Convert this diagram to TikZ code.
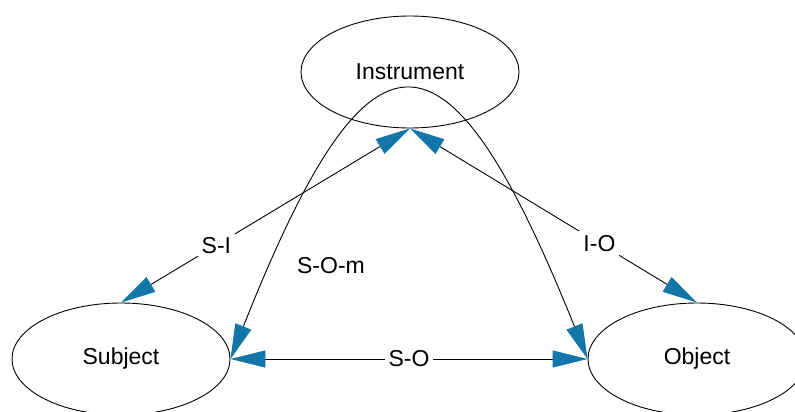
\documentclass[tikz,border=0pt]{standalone}
\usepackage{fontspec}
\setmainfont{Liberation Sans}
\usetikzlibrary{arrows.meta,shapes.geometric}

\definecolor{headblue}{RGB}{18,118,168}

\tikzset{every picture/.style={line width=0.9pt}}
\tikzset{
  role/.style={draw, ellipse, minimum width=218, minimum height=112, inner sep=0pt},
  twoway/.style={{Triangle[length=35pt,width=17pt,color=headblue]}-{Triangle[length=35pt,width=17pt,color=headblue]}},
  linklabel/.style={fill=white, inner sep=4pt}
}

\begin{document}
\begin{tikzpicture}[x=1pt,y=1pt,yscale=-1,xscale=1,font=\fontsize{23}{27}\selectfont]
	\clip (0,0) rectangle (795,412);

	%Shape: Ellipse
	\node [role] (instrument) at (410,72) {Instrument};
	%Shape: Ellipse
	\node [role] (subject) at (121,359) {Subject};
	%Shape: Ellipse
	\node [role] (object) at (697,359) {Object};

	%Straight Lines
	\draw [twoway] (subject.north) -- node[linklabel, pos=0.33] {S-I} (instrument.south);
	%Straight Lines
	\draw [twoway] (instrument.south) -- node[linklabel, pos=0.66] {I-O} (object.north);
	%Straight Lines
	\draw [twoway] (subject.east) -- node[linklabel] {S-O} (object.west);
	%Curve Lines
	\draw [twoway] (subject.east) .. controls (370,7) and (446,7) .. (object.west);

	% Text Node
	\node (som) at (331,266) {S-O-m};

\end{tikzpicture}
\end{document}
